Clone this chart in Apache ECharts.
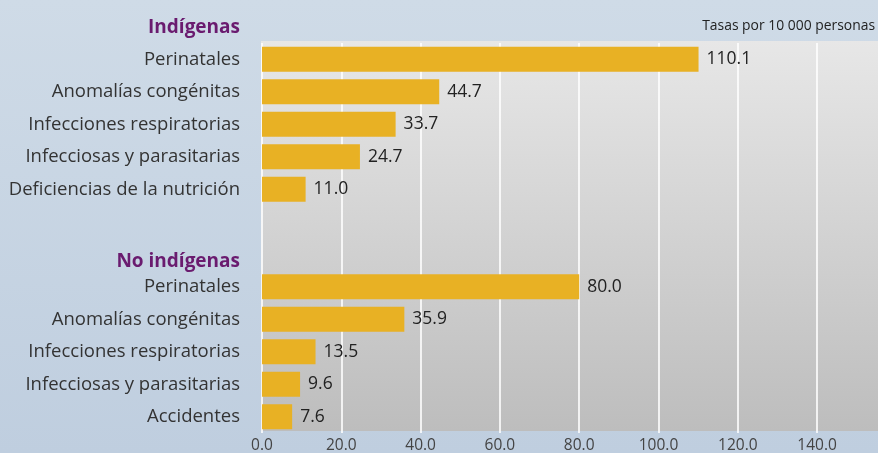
<!DOCTYPE html>
<html>
<head>
<meta charset="utf-8">
<script src="https://cdn.jsdelivr.net/npm/echarts@6/dist/echarts.min.js"></script>
<style>
html,body{margin:0;padding:0;background:#c8d5e3;}
#c{width:878px;height:453px;}
</style>
</head>
<body>
<div id="c"></div>
<script>
var groupNames = ['Indígenas', 'No indígenas'];
var catsIndigenas = ['Perinatales', 'Anomalías congénitas', 'Infecciones respiratorias', 'Infecciosas y parasitarias', 'Deficiencias de la nutrición'];
var valsIndigenas = [110.1, 44.7, 33.7, 24.7, 11.0];
var catsNoIndigenas = ['Perinatales', 'Anomalías congénitas', 'Infecciones respiratorias', 'Infecciosas y parasitarias', 'Accidentes'];
var valsNoIndigenas = [80.0, 35.9, 13.5, 9.6, 7.6];
var unitNote = 'Tasas por 10 000 personas';
var xTicks = [0, 20, 40, 60, 80, 100, 120, 140];

// build rows: group 1, two spacer rows, group 2
var rowNames = [].concat(catsIndigenas, ['', ''], catsNoIndigenas);
var rowVals = [].concat(valsIndigenas, [null, null], valsNoIndigenas);
var rowKeys = rowNames.map(function (n, i) { return 'r' + i; });

var chart = echarts.init(document.getElementById('c'));
var font = '"Open Sans", "Noto Sans", sans-serif';
chart.setOption({
  backgroundColor: {
    type: 'linear', x: 0, y: 0, x2: 0, y2: 1,
    colorStops: [{offset: 0, color: '#cfdbe7'}, {offset: 1, color: '#bfcedf'}]
  },
  animation: false,
  graphic: [
    {
      type: 'rect', z: -10, silent: true,
      shape: {x: 261, y: 41, width: 617, height: 390},
      style: {
        fill: {
          type: 'linear', x: 0, y: 0, x2: 0, y2: 1,
          colorStops: [{offset: 0, color: '#e7e7e7'}, {offset: 1, color: '#bdbdbd'}]
        }
      }
    },
    {
      type: 'text', right: 638, top: 18,
      style: {text: groupNames[0], font: 'bold 19px ' + font, fill: '#6a1b6f', textAlign: 'right'}
    },
    {
      type: 'text', right: 638, top: 252,
      style: {text: groupNames[1], font: 'bold 19px ' + font, fill: '#6a1b6f', textAlign: 'right'}
    },
    {
      type: 'text', right: 3, top: 19,
      style: {text: unitNote, font: '13.9px ' + font, fill: '#222', textAlign: 'right'}
    }
  ],
  grid: {left: 262, top: 43, width: 634.4, height: 390, containLabel: false, outerBoundsMode: 'none'},
  xAxis: {
    type: 'value', min: 0, max: 160, interval: 20,
    axisLine: {show: false}, axisTick: {show: false},
    splitLine: {show: true, lineStyle: {color: '#ffffff', width: 1.6}},
    axisLabel: {
      showMaxLabel: false, margin: 5, color: '#444', fontSize: 15.5, fontFamily: font,
      formatter: function (v) { return xTicks.indexOf(v) >= 0 ? v.toFixed(1) : ''; }
    }
  },
  yAxis: {
    type: 'category', inverse: true, data: rowKeys,
    axisLine: {show: false}, axisTick: {show: false}, splitLine: {show: false},
    axisLabel: {
      margin: 22, color: '#333', fontSize: 18.5, fontFamily: font,
      formatter: function (v) { return rowNames[rowKeys.indexOf(v)]; }
    }
  },
  series: [{
    type: 'bar', data: rowVals, barWidth: 25,
    itemStyle: {color: '#e8b124'},
    label: {
      show: true, position: 'right', distance: 8, color: '#222', fontSize: 17.5, fontFamily: font,
      formatter: function (p) { return p.value == null ? '' : Number(p.value).toFixed(1); }
    }
  }]
});
</script>
</body>
</html>
